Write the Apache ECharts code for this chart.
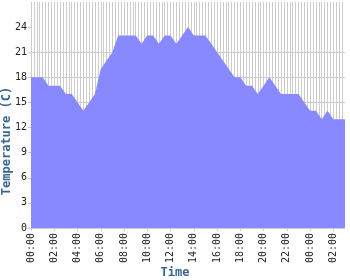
<!DOCTYPE html>
<html>
<head>
<meta charset="utf-8">
<script src="https://cdn.jsdelivr.net/npm/echarts@6/dist/echarts.min.js"></script>
<style>html,body{margin:0;padding:0;background:#fff;}#c{width:350px;height:280px;}</style>
</head>
<body>
<div id="c"></div>
<script>
// hours since 00:00 (half-hour readings, running into the next day)
var times = [0,0.5,1,1.5,2,2.5,3,3.5,4,4.5,5,5.5,6,6.5,7,7.5,8,8.5,9,9.5,10,10.5,11,11.5,12,12.5,13,13.5,14,14.5,15,15.5,16,16.5,17,17.5,18,18.5,19,19.5,20,20.5,21,21.5,22,22.5,23,23.5,24,24.5,25,25.5,26,26.5,27];
var temps = [18,18,18,17,17,17,16,16,15,14,15,16,19,20,21,23,23,23,23,22,23,23,22,23,23,22,23,24,23,23,23,22,21,20,19,18,18,17,17,16,17,18,17,16,16,16,16,15,14,14,13,14,13,13,13];
var tickHours = [0,2,4,6,8,10,12,14,16,18,20,22,24,26];
var tickLabels = ["00:00","02:00","04:00","06:00","08:00","10:00","12:00","14:00","16:00","18:00","20:00","22:00","00:00","02:00"];
var yTicks = [0,3,6,9,12,15,18,21,24];

var data = times.map(function(t,i){return [t, temps[i]];});
var chart = echarts.init(document.getElementById('c'), null, {renderer:'canvas'});
var font = '"DejaVu Sans Mono", monospace';
chart.setOption({
  animation:false,
  grid:{left:31,right:5,top:2,bottom:52,containLabel:false},
  xAxis:[{
    type:'value',min:0,max:27,interval:2,position:'bottom',
    axisLine:{show:false},
    axisTick:{show:true,length:3,lineStyle:{color:'#cccccc'},customValues:tickHours},
    axisLabel:{show:true,rotate:90,margin:5,fontFamily:font,fontSize:10,color:'#222',
      customValues:tickHours,
      formatter:function(v){var i=tickHours.indexOf(v);return i>=0?tickLabels[i]:'';}},
    splitLine:{show:false}
  },{
    type:'value',min:0,max:27,interval:0.25,position:'bottom',
    axisLine:{show:false},axisTick:{show:false},axisLabel:{show:false},
    splitLine:{show:true,showMaxLine:false,lineStyle:{color:'#cccccc',width:1}}
  }],
  yAxis:{
    type:'value',min:0,max:27,interval:3,
    axisLine:{show:false},
    axisTick:{show:true,length:3,lineStyle:{color:'#cccccc'},customValues:yTicks},
    axisLabel:{margin:4,fontFamily:font,fontSize:10,color:'#222',customValues:yTicks},
    splitLine:{show:true,showMaxLine:false,lineStyle:{color:'#cccccc',width:1}}
  },
  graphic:[
    {type:'text',x:175,y:273,style:{text:'Time',font:'bold 12px '+font,fill:'#3a6690',textAlign:'center',textVerticalAlign:'middle'}},
    {type:'text',x:7,y:141,rotation:Math.PI/2,style:{text:'Temperature (C)',font:'bold 12px '+font,fill:'#3a6690',textAlign:'center',textVerticalAlign:'middle'}}
  ],
  series:[{
    type:'line',xAxisIndex:0,data:data,showSymbol:false,symbol:'none',
    lineStyle:{width:0,color:'#8888ff'},
    itemStyle:{color:'#8888ff'},
    areaStyle:{color:'#8888ff',opacity:1}
  }]
});
</script>
</body>
</html>
